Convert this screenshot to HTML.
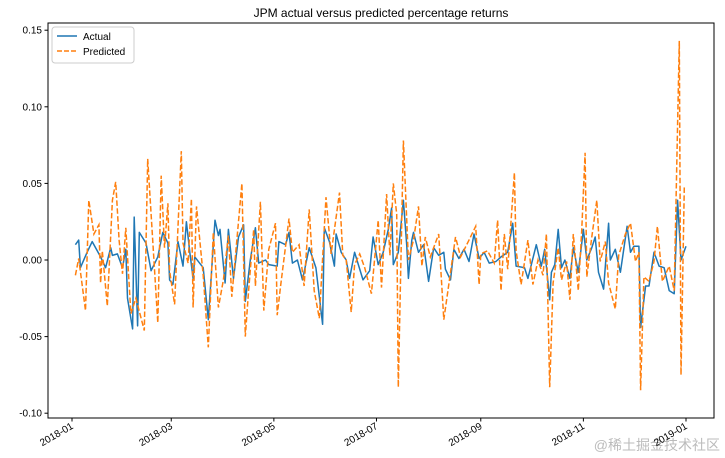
<!DOCTYPE html>
<html><head><meta charset="utf-8"><style>
body{margin:0;background:#fff;}
svg{display:block;font-family:"Liberation Sans","DejaVu Sans",sans-serif;}
</style></head><body>
<svg id="chart" width="725" height="458" viewBox="0 0 725 458">
<text x="381" y="17" text-anchor="middle" font-size="12" fill="#000">JPM actual versus predicted percentage returns</text>
<g id="plot"></g>
<rect x="48" y="23" width="666" height="395" fill="none" stroke="#000" stroke-width="1"/>
<g>
<rect x="52" y="27" width="82" height="36" rx="3" fill="#fff" fill-opacity="0.8" stroke="#ccc"/>
<g><line x1="57" y1="36" x2="77" y2="36" stroke="#1f77b4" stroke-width="1.5"/><text x="83" y="40" font-size="10">Actual</text></g>
<g><line x1="57" y1="51" x2="77" y2="51" stroke="#ff7f0e" stroke-width="1.5" stroke-dasharray="5,2"/><text x="83" y="55" font-size="10">Predicted</text></g>
</g>
<text x="720" y="450" text-anchor="end" font-size="14" fill="#bbb" font-family="'Liberation Sans','Noto Sans CJK SC',sans-serif">@稀土掘金技术社区</text>
</svg>
<script>
const yTicks=[-0.10,-0.05,0.00,0.05,0.10,0.15];
const xTickDays=[0,59,120,181,243,304,365];
const xTickLabels=["2018-01","2018-03","2018-05","2018-07","2018-09","2018-11","2019-01"];
const actualDays=[2,4,5,9,12,17,20,23,24,27,30,32,33,36,37,39,40,44,47,51,54,57,58,60,63,66,68,70,72,73,78,81,85,87,88,91,93,96,99,102,103,106,109,111,115,117,122,123,127,129,131,134,137,141,145,149,150,153,156,157,160,163,165,168,173,177,179,182,185,188,190,191,194,197,199,200,202,203,206,209,212,215,218,221,222,225,227,230,233,236,239,242,245,248,252,255,259,262,264,269,271,276,279,281,284,285,287,289,291,293,296,298,301,304,306,309,311,313,316,319,320,323,326,330,332,334,337,338,341,343,346,349,352,355,358,360,362,365];
const actualValues=[0.01,0.013,-0.005,0.005,0.012,0.002,-0.005,0.008,0.003,0.004,-0.005,0.007,-0.025,-0.045,0.028,-0.043,0.018,0.011,-0.007,0.002,0.018,0.011,-0.013,-0.016,0.012,-0.004,0.025,0.005,-0.012,0.002,-0.005,-0.039,0.026,0.016,0.02,-0.015,0.02,-0.012,0.015,0.023,-0.027,0,0.021,-0.002,0,-0.003,-0.004,0.012,0.01,0.018,-0.002,0,-0.013,0.008,-0.005,-0.042,0.021,0.012,-0.004,0.017,0.005,0,-0.012,0.005,-0.013,-0.007,0.015,-0.003,0.005,0.02,0.034,-0.003,0.005,0.039,0.009,-0.012,0.013,0.018,0.005,0.01,-0.014,0.008,0.003,0.005,-0.006,-0.013,0.007,0.001,0.007,-0.001,0.017,0.001,0.005,-0.002,-0.001,0.002,0.005,0.024,-0.004,-0.005,-0.012,0.01,-0.004,0.007,-0.026,-0.008,-0.003,0.02,-0.005,0,-0.012,0.008,-0.008,0.02,0,0.008,0.015,-0.008,-0.019,0.024,0,0.007,-0.008,0.022,0.005,0.009,0.009,-0.044,-0.017,-0.017,0.005,-0.004,-0.005,-0.02,-0.022,0.039,0,0.009];
const predictedDays=[2,4,8,10,13,16,17,18,21,24,26,28,30,32,35,38,43,45,48,51,53,55,57,58,61,65,66,69,71,72,74,78,81,84,87,90,93,95,101,103,105,108,109,112,114,117,121,122,124,129,131,135,138,141,144,147,151,154,159,161,163,166,168,171,174,178,182,184,187,189,191,193,194,197,200,203,206,208,210,213,218,221,224,228,231,236,240,242,243,247,251,253,255,257,259,263,264,267,271,274,277,280,282,284,286,289,291,294,296,298,301,303,305,306,309,312,314,317,319,323,325,329,332,335,337,338,340,343,346,348,351,355,358,361,362,364];
const predictedValues=[-0.01,0.001,-0.033,0.039,0.017,0.023,-0.015,0.006,-0.03,0.039,0.051,0.013,-0.009,0.021,-0.035,-0.025,-0.046,0.066,0.013,-0.041,0.055,0.008,0.037,-0.007,-0.029,0.071,0.011,-0.002,0.04,-0.031,0.035,-0.01,-0.057,0.018,-0.031,-0.013,0.016,-0.024,0.05,-0.05,-0.02,0.02,-0.017,0.038,-0.033,0.007,0.024,-0.036,-0.017,0.027,0.005,0.01,-0.017,0.033,-0.02,-0.038,0.041,0.004,0.044,0.003,0,-0.034,-0.003,0.004,-0.005,-0.022,0.026,-0.018,0.043,0.003,0.05,0.03,-0.083,0.078,0,0.013,0.035,-0.004,0.015,0.002,0.017,-0.039,-0.016,0.015,0.002,0.013,0.022,-0.016,0.004,0.006,-0.002,0.026,-0.02,0.017,-0.006,0.057,0.006,-0.016,0.013,-0.016,0,-0.01,0.017,-0.083,-0.015,0.008,-0.013,-0.001,-0.026,0.017,-0.02,0.019,0.07,-0.011,0.015,0.039,-0.001,0.012,-0.015,-0.032,0.003,0.017,0.024,-0.001,0.005,-0.085,-0.011,-0.014,-0.001,0.022,-0.014,-0.004,-0.02,0.143,-0.075,0.048];

const X0=72,X1=686;
function xs(d){return X0+d*(X1-X0)/365;}
function ys(v){return 260-v*1532;}
const svg=document.getElementById('chart');
const plot=document.getElementById('plot');
const NS='http://www.w3.org/2000/svg';
function mk(tag,attrs,parent){const e=document.createElementNS(NS,tag);for(const k in attrs)e.setAttribute(k,attrs[k]);(parent||svg).appendChild(e);return e;}

yTicks.forEach(t=>{
  const y=ys(t);
  const l=mk('line',{x1:44.5,x2:48,y1:y,y2:y,stroke:'#000'});
  
  
  const tx=mk('text',{x:42,y:y+3.5,'text-anchor':'end','font-size':10});
  tx.textContent=t.toFixed(2);
  
  
});
xTickDays.forEach((d,i)=>{
  const x=xs(d);
  const l=mk('line',{x1:x,x2:x,y1:418,y2:421.5,stroke:'#000'});
  
  
  const tx=mk('text',{x:x+2,y:428,'text-anchor':'end','font-size':10,transform:`rotate(-30 ${x+2} 428)`});
  tx.textContent=xTickLabels[i];
  
  
});
function pathOf(days,vals){return days.map((d,i)=>(i?'L':'M')+xs(d).toFixed(1)+','+ys(vals[i]).toFixed(1)).join('');}
const pa=mk('path',{d:pathOf(actualDays,actualValues),fill:'none',stroke:'#1f77b4','stroke-width':1.5,'stroke-linejoin':'round'},plot);


const pp=mk('path',{d:pathOf(predictedDays,predictedValues),fill:'none',stroke:'#ff7f0e','stroke-width':1.5,'stroke-dasharray':'5.5,2.4'},plot);


</script>
</body></html>
